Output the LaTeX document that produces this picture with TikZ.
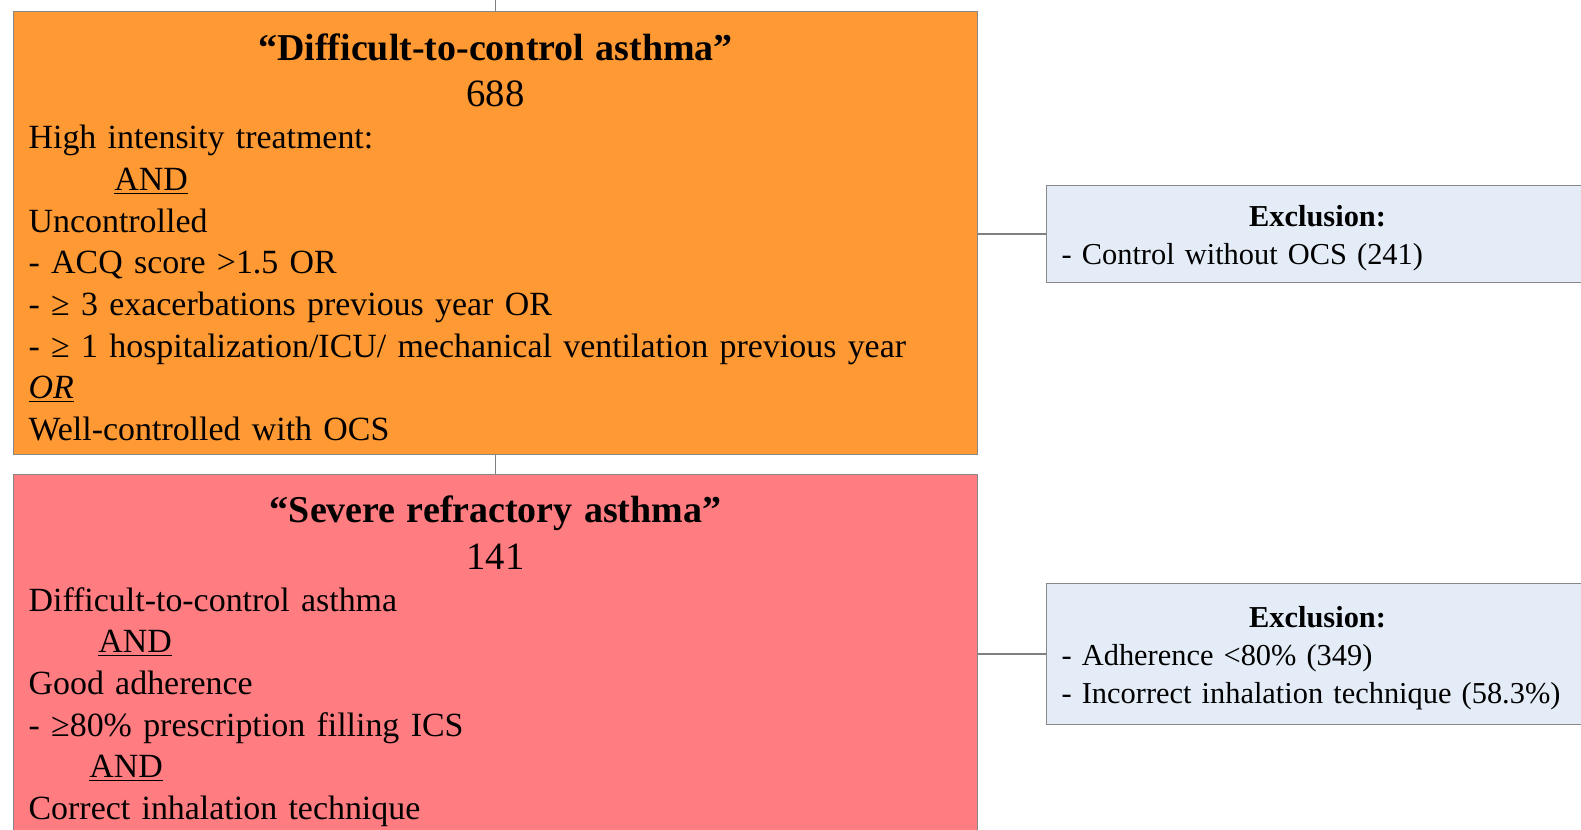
\documentclass[tikz,border=0pt]{standalone}
\usepackage{fontspec}
\setmainfont{Liberation Serif}
\usetikzlibrary{positioning}

\definecolor{diffcol}{RGB}{255,153,51}
\definecolor{sevcol}{RGB}{255,124,128}
\definecolor{exclcol}{RGB}{228,236,247}
\definecolor{edgecol}{RGB}{135,135,135}
\definecolor{linkcol}{RGB}{128,128,128}

\begin{document}
\begin{tikzpicture}[
    x=0.02cm, y=-0.02cm,
    link/.style={-, draw=linkcol, line width=0.85pt},
    critbox/.style={draw=edgecol, line width=0.7pt, rectangle, anchor=north west,
        minimum width=19.28cm, text width=18.68cm, inner xsep=0.3cm, inner ysep=12.3pt,
        align=left, font=\fontsize{19.3}{23.7}\selectfont},
    exclbox/.style={draw=edgecol, line width=0.7pt, rectangle, anchor=north west, fill=exclcol,
        minimum width=10.84cm, text width=10.24cm, inner xsep=0.3cm,
        align=left, font=\fontsize{17.3}{21.6}\selectfont}
]
\useasboundingbox (0,0) rectangle (1581,829);
\clip (0,0) rectangle (1581,829);

% Difficult-to-control asthma
\node[critbox, fill=diffcol, minimum height=8.86cm, inner ysep=2pt] (difficult) at (13,11) {%
\makebox[\linewidth]{\rule{0pt}{20pt}\fontsize{21.6}{26}\selectfont\bfseries “Difficult-to-control asthma”}\\[2.6pt]
\makebox[\linewidth]{\fontsize{22}{26}\selectfont 688}\\[0.3pt]
High intensity treatment:\\
\hspace*{48.8pt}\underline{AND}\\
Uncontrolled\\
- ACQ score >1.5 OR\\
- ≥ 3 exacerbations previous year OR\\
- ≥ 1 hospitalization/ICU/ mechanical ventilation previous year\\
\underline{\textit{OR}}\\
Well-controlled with OCS};

% Severe refractory asthma
\node[critbox, fill=sevcol] (severe) at (13,474) {%
\makebox[\linewidth]{\fontsize{21.6}{26}\selectfont\bfseries “Severe refractory asthma”}\\[2.6pt]
\makebox[\linewidth]{\fontsize{22}{26}\selectfont 141}\\[0.3pt]
Difficult-to-control asthma\\
\hspace*{39.7pt}\underline{AND}\\
Good adherence\\
- ≥80\% prescription filling ICS\\
\hspace*{34.6pt}\underline{AND}\\
Correct inhalation technique};

% exclusions
\node[exclbox, minimum height=1.94cm] (exdiff) at (1046,185) {%
\makebox[\linewidth]{\rule{0pt}{16.6pt}\bfseries Exclusion:}\\
- Control without OCS (241)};
\node[exclbox, minimum height=2.82cm] (exsev) at (1046,583) {%
\makebox[\linewidth]{\rule{0pt}{16.6pt}\bfseries Exclusion:}\\
- Adherence <80\% (349)\\
- Incorrect inhalation technique (58.3\%)};

% connectors
\coordinate (feed) at (difficult.north |- 0,0);
\draw[link] (feed) -- (difficult.north);
\draw[link] (difficult.south) -- (severe.north);
\draw[link] (difficult.east |- exdiff.west) -- (exdiff.west);
\draw[link] (severe.east |- exsev.west) -- (exsev.west);

\end{tikzpicture}
\end{document}
